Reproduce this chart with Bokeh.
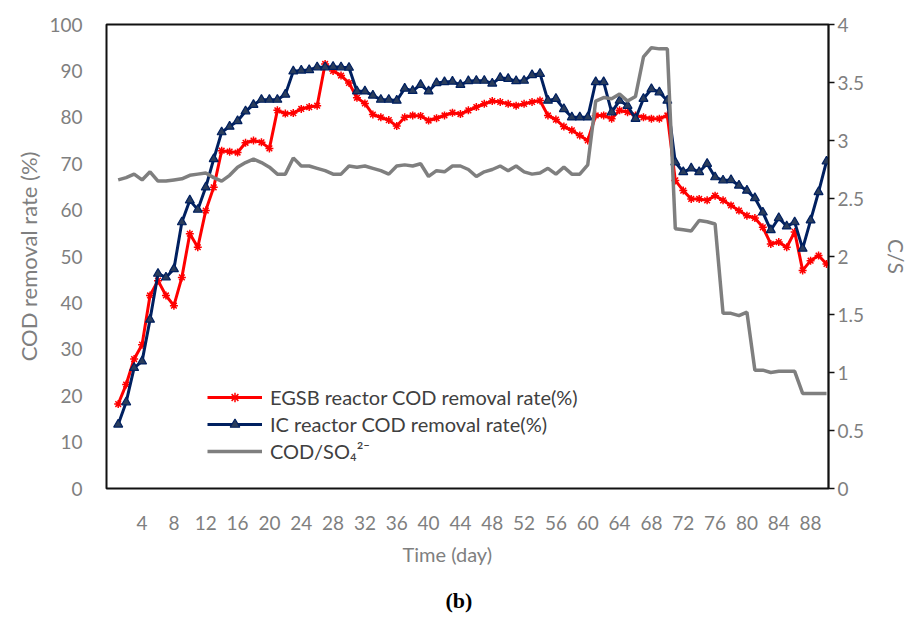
from bokeh.plotting import figure
from bokeh.models import Range1d, LinearAxis, FixedTicker, Legend, LegendItem, Title
from bokeh.embed import file_html
from bokeh.resources import INLINE

days = list(range(1, 91))
egsb = [18.2, 22.4, 27.9, 31.0, 41.6, 44.8, 41.6, 39.4, 45.5, 54.9,
        52.0, 59.9, 64.9, 72.8, 72.6, 72.4, 74.5, 75.0, 74.6, 73.3,
        81.5, 80.8, 80.9, 81.8, 82.2, 82.5, 91.5, 90.0, 89.0, 87.4,
        84.2, 83.0, 80.6, 80.0, 79.4, 78.1, 80.0, 80.4, 80.3, 79.3,
        79.8, 80.4, 81.0, 80.7, 81.5, 82.2, 82.9, 83.5, 83.3, 82.9,
        82.5, 82.9, 83.3, 83.6, 80.4, 79.5, 78.0, 77.2, 76.1, 75.0,
        80.4, 80.4, 79.7, 81.5, 81.1, 80.4, 80.0, 79.7, 79.7, 80.4,
        66.4, 64.2, 62.4, 62.4, 62.1, 63.1, 62.1, 61.0, 59.9, 58.8,
        58.3, 56.3, 52.7, 53.1, 52.0, 55.3, 47.0, 49.1, 50.2, 48.4]
ic = [13.8, 18.6, 26.0, 27.4, 36.4, 46.3, 45.5, 47.3, 57.4, 62.1,
      60.1, 64.9, 71.0, 76.8, 78.0, 79.2, 81.3, 82.7, 83.8, 83.8,
      83.8, 84.9, 89.9, 90.1, 90.2, 90.8, 90.8, 90.9, 90.8, 90.7,
      85.6, 85.6, 84.7, 83.8, 83.8, 83.6, 86.2, 85.7, 87.0, 85.6,
      87.4, 87.6, 87.7, 87.0, 87.8, 87.9, 87.9, 87.3, 88.5, 88.3,
      87.8, 87.9, 89.1, 89.4, 83.6, 84.0, 81.8, 80.0, 80.0, 80.0,
      87.6, 87.6, 81.1, 83.6, 82.5, 79.7, 84.0, 86.1, 85.4, 83.6,
      70.3, 68.2, 69.0, 68.2, 70.0, 67.1, 66.4, 66.5, 65.3, 64.2,
      62.6, 59.5, 55.7, 58.3, 56.5, 57.4, 51.7, 57.8, 63.9, 70.5]
cs = [2.66, 2.68, 2.71, 2.66, 2.73, 2.65, 2.65, 2.66, 2.67, 2.70,
      2.71, 2.72, 2.68, 2.65, 2.70, 2.77, 2.81, 2.84, 2.81, 2.77,
      2.71, 2.71, 2.85, 2.78, 2.78, 2.76, 2.74, 2.71, 2.71, 2.78,
      2.77, 2.78, 2.76, 2.74, 2.71, 2.78, 2.79, 2.78, 2.80, 2.69,
      2.74, 2.73, 2.78, 2.78, 2.75, 2.69, 2.73, 2.75, 2.78, 2.74,
      2.78, 2.73, 2.71, 2.72, 2.76, 2.71, 2.77, 2.71, 2.71, 2.79,
      3.34, 3.37, 3.36, 3.40, 3.34, 3.38, 3.72, 3.80, 3.79, 3.79,
      2.24, 2.23, 2.22, 2.31, 2.30, 2.28, 1.51, 1.51, 1.49, 1.52,
      1.02, 1.02, 1.00, 1.01, 1.01, 1.01, 0.82, 0.82, 0.82, 0.82]

x_ticks = list(range(4, 89, 4))
left_ticks = list(range(0, 101, 10))
right_ticks = [0, 0.5, 1, 1.5, 2, 2.5, 3, 3.5, 4]
right_labels = ["0", "0.5", "1", "1.5", "2", "2.5", "3", "3.5", "4"]

FONT = "Lato"
TXT = "#7f7f7f"

p = figure(width=914, height=624, output_backend="svg", toolbar_location=None,
           x_range=Range1d(-0.47, 90.25), y_range=Range1d(0, 100),
           min_border_left=106, min_border_right=86, min_border_top=24,
           min_border_bottom=136)
p.grid.visible = False
p.outline_line_color = "#111111"
p.outline_line_width = 2
p.background_fill_color = "white"
p.border_fill_color = "white"

xa = p.xaxis[0]
xa.ticker = FixedTicker(ticks=x_ticks)
xa.axis_line_color = None
xa.major_tick_line_color = None
xa.minor_tick_line_color = None
xa.major_label_standoff = 21
xa.major_label_text_font = FONT
xa.major_label_text_font_size = "19px"
xa.major_label_text_color = TXT

ya = p.yaxis[0]
ya.ticker = FixedTicker(ticks=left_ticks)
ya.axis_line_color = None
ya.major_tick_line_color = None
ya.minor_tick_line_color = None
ya.major_label_standoff = 18
ya.major_label_text_font = FONT
ya.major_label_text_font_size = "19px"
ya.major_label_text_color = TXT
ya.axis_label = "COD removal rate (%)"
ya.axis_label_standoff = 4
ya.axis_label_text_font = FONT
ya.axis_label_text_font_size = "22px"
ya.axis_label_text_font_style = "normal"
ya.axis_label_text_color = TXT

p.extra_y_ranges = {"cs": Range1d(0, 4)}
ra = LinearAxis(y_range_name="cs", ticker=FixedTicker(ticks=right_ticks),
                major_label_overrides={t: l for t, l in zip(right_ticks, right_labels)})
ra.axis_line_color = "#111111"
ra.axis_line_width = 1.5
ra.major_tick_out = 6
ra.major_tick_in = 0
ra.major_tick_line_color = "#111111"
ra.major_tick_line_width = 1.5
ra.minor_tick_line_color = None
ra.major_label_standoff = 3
ra.major_label_text_font = FONT
ra.major_label_text_font_size = "19px"
ra.major_label_text_color = TXT
ra.axis_label = "C/S"
ra.axis_label_standoff = 17
ra.axis_label_text_font = FONT
ra.axis_label_text_font_size = "21px"
ra.axis_label_text_font_style = "normal"
ra.axis_label_text_color = TXT
p.add_layout(ra, "right")

t1 = Title(text="Time (day)", align="left", offset=296, standoff=15,
           text_font=FONT, text_font_size="20px", text_font_style="normal",
           text_color=TXT)
p.add_layout(t1, "below")
t2 = Title(text="(b)", align="left", offset=339, standoff=24,
           text_font="Liberation Serif", text_font_size="22px",
           text_font_style="bold", text_color="black")
p.add_layout(t2, "below")

r_line = p.line(days, egsb, line_color="#ff0000", line_width=3)
r_mark = p.scatter(days, egsb, marker="asterisk", size=8, line_color="#ff0000", line_width=1.5)
b_line = p.line(days, ic, line_color="#002060", line_width=3)
b_mark = p.scatter(days, ic, marker="triangle", size=9, fill_color="#2a3d5c",
                   line_color="#002060", line_width=1.2)
g_line = p.line(days, cs, y_range_name="cs", line_color="#7f7f7f", line_width=3.5)

legend = Legend(items=[
    LegendItem(label="EGSB reactor COD removal rate(%)", renderers=[r_line, r_mark]),
    LegendItem(label="IC reactor COD removal rate(%)", renderers=[b_line, b_mark]),
    LegendItem(label="COD/SO\u2084\u00b2\u207b", renderers=[g_line]),
], location=(101, 25))
legend.glyph_width = 55
legend.glyph_height = 24
legend.label_height = 24
legend.spacing = 3
legend.padding = 0
legend.margin = 0
legend.label_standoff = 8
legend.label_text_font = FONT
legend.label_text_font_size = "20px"
legend.label_text_color = "#404040"
legend.background_fill_alpha = 0
legend.border_line_alpha = 0
p.add_layout(legend)

open("out.html", "w").write(file_html(p, INLINE))
